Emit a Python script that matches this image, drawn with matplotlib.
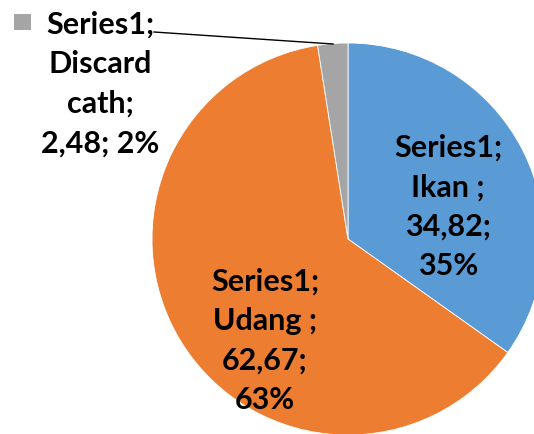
import matplotlib.pyplot as plt

# data
categories = ['Ikan ', 'Udang ', 'Discard cath']
values = [34.82, 62.67, 2.48]
colors = ['#5B9BD5', '#ED7D31', '#A5A5A5']
series_name = 'Series1'

W, H = 534, 435
fig = plt.figure(figsize=(W / 100, H / 100), dpi=100)
ax = fig.add_axes([0, 0, 1, 1])
ax.set_xlim(0, W)
ax.set_ylim(0, H)
ax.set_aspect('equal')
ax.axis('off')

cx, cy, r = 348, H - 240, 196
wedges, _ = ax.pie(values, colors=colors, startangle=90, counterclock=False,
                   center=(cx, cy), radius=r, frame=True,
                   wedgeprops=dict(edgecolor='white', linewidth=0.6))
ax.set_xlim(0, W)
ax.set_ylim(0, H)
ax.axis('off')

total = sum(values)


def fmt(v):
    return f'{v:.2f}'.replace('.', ',')


font = dict(family=['Lato', 'DejaVu Sans'], fontweight='bold', fontsize=22,
            color='black', ha='center', va='center', linespacing=1.5)

# labels inside slices
lab_ikan = f'{series_name};\n{categories[0]};\n{fmt(values[0])};\n{round(values[0] / total * 100)}%'
ax.text(448, H - 207, lab_ikan, **font)
lab_udang = f'{series_name};\n{categories[1]};\n{fmt(values[1])};\n{round(values[1] / total * 100)}%'
ax.text(265, H - 341, lab_udang, **font)

# discard label outside with legend key and leader line
lab_disc = f'{series_name};\nDiscard\ncath;\n{fmt(values[2])}; {round(values[2] / total * 100)}%'
ax.text(100, H - 84, lab_disc, **font)
ax.add_patch(plt.Rectangle((14, H - 31), 17, 16, color=colors[2], lw=0))
ax.plot([154, 333], [H - 33, H - 45], color='black', lw=1)

fig.savefig('out.png', dpi=100)
